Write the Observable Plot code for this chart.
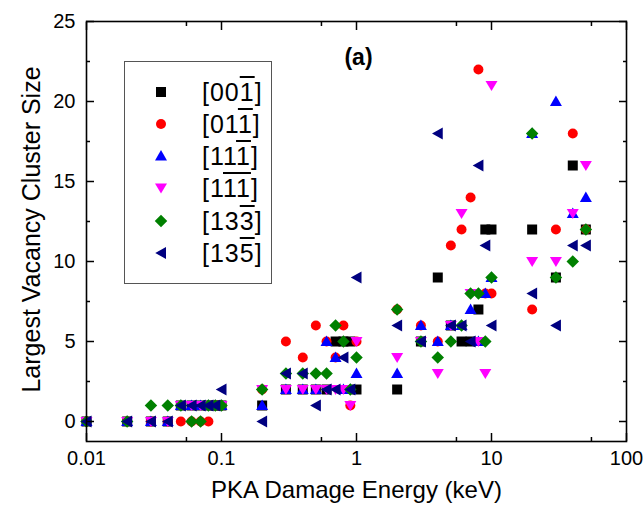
<!DOCTYPE html>
<html>
<head>
<meta charset="utf-8">
<script src="https://cdn.jsdelivr.net/npm/d3@7"></script>
<script src="https://cdn.jsdelivr.net/npm/@observablehq/plot@0.6"></script>
<style>
  html, body { margin: 0; padding: 0; background: #fff; }
  #wrap { position: relative; width: 644px; height: 511px; font-family: "Liberation Sans", Arial, sans-serif; color: #000; }
  #legend { position: absolute; left: 124px; top: 61px; width: 146px; height: 221px; border: 1px solid #555; background: #fff; }
  #legend svg { position: absolute; overflow: visible; }
  #legend .lbl { position: absolute; font-size: 25px; line-height: 28px; white-space: nowrap; letter-spacing: 1px; }
  .ov { text-decoration: overline; }
</style>
</head>
<body>
<div id="wrap"></div>
<script>
// ---- data ----
const energy = [0.01,0.02,0.03,0.04,0.05,0.06,0.07,0.08,0.09,0.1,0.2,0.3,0.4,0.5,0.6,0.7,0.8,0.9,1,2,3,4,5,6,7,8,9,10,20,30,40,50];
const size001  = [0,0,0,0,1,1,1,1,1, 1, 1,2,2,2,2,5,5,5, 2, 2,5,9,6,5,5,7,12, 12, 12,9,16,12];
const size011  = [0,0,0,0,0,0,0,0,1, 1, 2,5,4,6,5,4,6,1, 5, 7,6,5,11,12,14,22,8, 8, 7,12,18,12];
const size111  = [0,0,0,0,1,1,1,1,1, 1, 1,2,2,2,5,4,2,2, 3, 3,6,5,6,6,7,5,8, 9, 18,20,13,14];
const size1m1m1 = [0,0,0,0,1,1,1,1,1, 1, 2,2,2,2,2,2,2,1, 5, 4,5,3,6,13,8,5,3, 21, 10,10,13,16];
const size133  = [0,0,1,1,1,0,0,1,1, 1, 2,3,3,3,3,6,5,2, 4, 7,5,4,5,6,8,8,5, 9, 18,9,10,12];
const size135  = [0,0,0,0,1,1,1,1,1, 2, 0,3,3,1,2,2,4,2, 9, 6,5,18,6,6,5,16,11, 6, 8,6,11,11];

const seriesNames = ["001", "011", "111", "1-1-1", "133", "135"];
const legendHTML = ["[00<span class='ov'>1</span>]", "[01<span class='ov'>1</span>]", "[11<span class='ov'>1</span>]",
                    "[1<span class='ov'>11</span>]", "[13<span class='ov'>3</span>]", "[13<span class='ov'>5</span>]"];
const colors = ["#000000", "#ff0000", "#0000ff", "#ff00ff", "#008000", "#000080"];

const xMajor = [0.01, 0.1, 1, 10, 100];
const xMinor = [0.055, 0.55, 5.5, 55];
const yMajor = [0, 5, 10, 15, 20, 25];
const yMinor = [2.5, 7.5, 12.5, 17.5, 22.5];

// ---- marker shapes ----
const rad = s => Math.sqrt(s / Math.PI);
const symSquare = {draw(c, s) { const r = rad(s); c.rect(-r, -r, 2 * r, 2 * r); }};
const symCircle = {draw(c, s) { const r = rad(s); c.moveTo(r, 0); c.arc(0, 0, r, 0, 2 * Math.PI); }};
const symUp = {draw(c, s) { const r = rad(s); c.moveTo(0, -1.2 * r); c.lineTo(1.2 * r, 0.9 * r); c.lineTo(-1.2 * r, 0.9 * r); c.closePath(); }};
const symDown = {draw(c, s) { const r = rad(s); c.moveTo(0, 1.1 * r); c.lineTo(1.2 * r, -0.9 * r); c.lineTo(-1.2 * r, -0.9 * r); c.closePath(); }};
const symDiamond = {draw(c, s) { const r = rad(s) * 1.25; c.moveTo(0, -r); c.lineTo(r, 0); c.lineTo(0, r); c.lineTo(-r, 0); c.closePath(); }};
const symLeft = {draw(c, s) { const r = rad(s); c.moveTo(-1.15 * r, 0); c.lineTo(1.0 * r, -1.2 * r); c.lineTo(1.0 * r, 1.2 * r); c.closePath(); }};
const symbols = [symSquare, symCircle, symUp, symDown, symDiamond, symLeft];
const allSizes = [size001, size011, size111, size1m1m1, size133, size135];

const R = 5;
const dotMarks = allSizes.map((vals, k) => {
  const data = energy.map((e, i) => ({e, v: vals[i], s: seriesNames[k]})).filter(d => d.v != null);
  return Plot.dot(data, {x: "e", y: "v", symbol: symbols[k], fill: colors[k], stroke: "none", r: R});
});

const blank = () => "";
const tickStyle = {strokeWidth: 1.5, label: null, tickFormat: blank};

const chart = Plot.plot({
  width: 644,
  height: 511,
  marginLeft: 86,
  marginRight: 18,
  marginTop: 21,
  marginBottom: 70,
  x: {type: "log", domain: [0.01, 100]},
  y: {domain: [-1.25, 25]},
  style: {fontFamily: "'Liberation Sans', Arial, sans-serif", color: "black", background: "white", overflow: "visible"},
  marks: [
    ...dotMarks,
    Plot.frame({stroke: "black", strokeWidth: 1.6}),
    Plot.axisX(xMajor, {anchor: "bottom", tickSize: -8, ...tickStyle}),
    Plot.axisX(xMinor, {anchor: "bottom", tickSize: -4, ...tickStyle}),
    Plot.axisX(xMajor, {anchor: "top", tickSize: -8, ...tickStyle}),
    Plot.axisX(xMinor, {anchor: "top", tickSize: -4, ...tickStyle}),
    Plot.axisY(yMajor, {anchor: "left", tickSize: -8, ...tickStyle}),
    Plot.axisY(yMinor, {anchor: "left", tickSize: -4, ...tickStyle}),
    Plot.axisY(yMajor, {anchor: "right", tickSize: -8, ...tickStyle}),
    Plot.axisY(yMinor, {anchor: "right", tickSize: -4, ...tickStyle}),
    Plot.axisX(xMajor, {anchor: "bottom", tickSize: 0, tickPadding: 9, fontSize: 20, label: null, tickFormat: d => String(d)}),
    Plot.axisY(yMajor, {anchor: "left", tickSize: 0, tickPadding: 11, fontSize: 20, label: null, tickFormat: d => String(d)}),
    Plot.text(["PKA Damage Energy (keV)"], {frameAnchor: "bottom", dy: 56, fontSize: 24, text: d => d}),
    Plot.text(["Largest Vacancy Cluster Size"], {frameAnchor: "left", textAnchor: "middle", dx: -55, dy: -2, rotate: -90, fontSize: 25, text: d => d}),
    Plot.text(["(a)"], {frameAnchor: "top", dy: 27, dx: 2, fontSize: 23, fontWeight: "bold", text: d => d})
  ]
});

const wrap = document.getElementById("wrap");
wrap.appendChild(chart);

// ---- legend ----
const legend = document.createElement("div");
legend.id = "legend";
wrap.appendChild(legend);
const rowCenters = [30, 62, 94, 126, 159, 191];
rowCenters.forEach((cy, k) => {
  const svg = d3.create("svg").attr("width", 20).attr("height", 20)
    .style("left", (36 - 10) + "px").style("top", (cy - 10) + "px");
  const p = d3.path();
  symbols[k].draw(p, R * R * Math.PI);
  svg.append("path").attr("transform", "translate(10,10)").attr("d", p.toString()).attr("fill", colors[k]);
  legend.appendChild(svg.node());
  const t = document.createElement("div");
  t.className = "lbl";
  t.style.left = "77px";
  t.style.top = (cy - 14) + "px";
  t.innerHTML = legendHTML[k];
  legend.appendChild(t);
});
</script>
</body>
</html>
